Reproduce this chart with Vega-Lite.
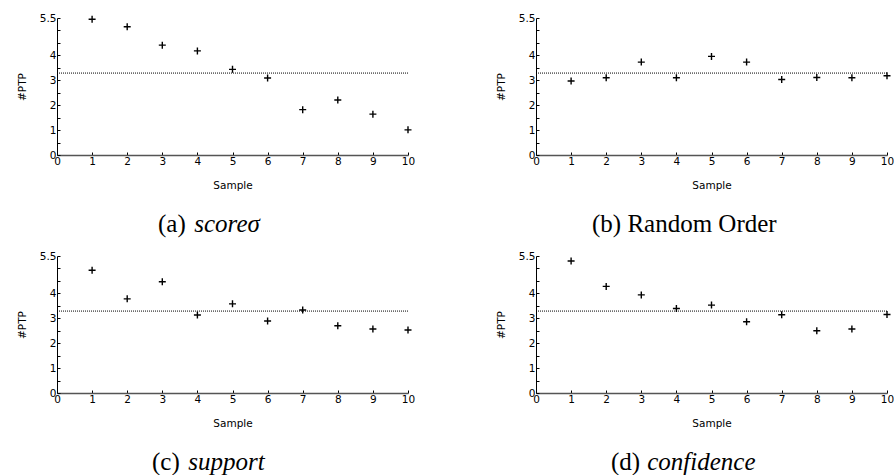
{
  "$schema": "https://vega.github.io/schema/vega-lite/v6.json",
  "padding": {"left": 17, "top": 12, "right": 0, "bottom": 0},
  "background": "white",
  "datasets": {
    "pts": [
      {"panel": "a", "sample": 1, "ptp": 5.45}, {"panel": "a", "sample": 2, "ptp": 5.15}, {"panel": "a", "sample": 3, "ptp": 4.41}, {"panel": "a", "sample": 4, "ptp": 4.18}, {"panel": "a", "sample": 5, "ptp": 3.44},
      {"panel": "a", "sample": 6, "ptp": 3.09}, {"panel": "a", "sample": 7, "ptp": 1.82}, {"panel": "a", "sample": 8, "ptp": 2.21}, {"panel": "a", "sample": 9, "ptp": 1.64}, {"panel": "a", "sample": 10, "ptp": 1.01},
      {"panel": "b", "sample": 1, "ptp": 2.97}, {"panel": "b", "sample": 2, "ptp": 3.10}, {"panel": "b", "sample": 3, "ptp": 3.73}, {"panel": "b", "sample": 4, "ptp": 3.10}, {"panel": "b", "sample": 5, "ptp": 3.96},
      {"panel": "b", "sample": 6, "ptp": 3.73}, {"panel": "b", "sample": 7, "ptp": 3.03}, {"panel": "b", "sample": 8, "ptp": 3.11}, {"panel": "b", "sample": 9, "ptp": 3.10}, {"panel": "b", "sample": 10, "ptp": 3.18},
      {"panel": "c", "sample": 1, "ptp": 4.93}, {"panel": "c", "sample": 2, "ptp": 3.78}, {"panel": "c", "sample": 3, "ptp": 4.47}, {"panel": "c", "sample": 4, "ptp": 3.13}, {"panel": "c", "sample": 5, "ptp": 3.58},
      {"panel": "c", "sample": 6, "ptp": 2.89}, {"panel": "c", "sample": 7, "ptp": 3.33}, {"panel": "c", "sample": 8, "ptp": 2.70}, {"panel": "c", "sample": 9, "ptp": 2.57}, {"panel": "c", "sample": 10, "ptp": 2.53},
      {"panel": "d", "sample": 1, "ptp": 5.30}, {"panel": "d", "sample": 2, "ptp": 4.28}, {"panel": "d", "sample": 3, "ptp": 3.94}, {"panel": "d", "sample": 4, "ptp": 3.39}, {"panel": "d", "sample": 5, "ptp": 3.53},
      {"panel": "d", "sample": 6, "ptp": 2.86}, {"panel": "d", "sample": 7, "ptp": 3.14}, {"panel": "d", "sample": 8, "ptp": 2.50}, {"panel": "d", "sample": 9, "ptp": 2.57}, {"panel": "d", "sample": 10, "ptp": 3.15}
    ],
    "avg": [
      {"panel": "a", "value": 3.29}, {"panel": "b", "value": 3.29}, {"panel": "c", "value": 3.29}, {"panel": "d", "value": 3.29}
    ]
  },
  "concat": [
    {
      "width": 351, "height": 137,
      "title": {"text": "(a)", "subtitle": "\u200b\u00a0\u00a0\u00a0\u00a0\u00a0\u2009score\u03c3", "dx": 101},
      "layer": [
        {"data": {"name": "pts"}, "transform": [{"filter": "datum.panel == 'a'"}], "mark": {"type": "point", "shape": "M-1,0L1,0M0,-1L0,1", "filled": false, "stroke": "black", "strokeWidth": 1.4, "size": 49, "opacity": 1},
         "encoding": {
           "x": {"field": "sample", "type": "quantitative", "title": "Sample", "scale": {"domain": [0, 10]}, "axis": {"values": [0, 1, 2, 3, 4, 5, 6, 7, 8, 9, 10], "format": "d"}},
           "y": {"field": "ptp", "type": "quantitative", "title": "#PTP", "scale": {"domain": [0, 5.501], "nice": false}, "axis": {"values": [0, 0.5, 1, 1.5, 2, 2.5, 3, 3.5, 4, 4.5, 5, 5.5], "format": "~g", "labelExpr": "(datum.value == 5.5 || (datum.value <= 4 && datum.value % 1 == 0)) ? datum.label : ''"}}}},
        {"data": {"name": "avg"}, "transform": [{"filter": "datum.panel == 'a'"}], "mark": {"type": "rule", "strokeDash": [1, 1], "color": "black", "strokeWidth": 1},
         "encoding": {"y": {"field": "value", "type": "quantitative", "title": "#PTP", "scale": {"domain": [0, 5.501], "nice": false}, "axis": {"values": [0, 0.5, 1, 1.5, 2, 2.5, 3, 3.5, 4, 4.5, 5, 5.5], "format": "~g", "labelExpr": "(datum.value == 5.5 || (datum.value <= 4 && datum.value % 1 == 0)) ? datum.label : ''"}}}}
      ]
    },
    {
      "width": 351, "height": 137,
      "title": {"text": "(b) Random Order", "dx": 56},
      "layer": [
        {"data": {"name": "pts"}, "transform": [{"filter": "datum.panel == 'b'"}], "mark": {"type": "point", "shape": "M-1,0L1,0M0,-1L0,1", "filled": false, "stroke": "black", "strokeWidth": 1.4, "size": 49, "opacity": 1},
         "encoding": {
           "x": {"field": "sample", "type": "quantitative", "title": "Sample", "scale": {"domain": [0, 10]}, "axis": {"values": [0, 1, 2, 3, 4, 5, 6, 7, 8, 9, 10], "format": "d"}},
           "y": {"field": "ptp", "type": "quantitative", "title": "#PTP", "scale": {"domain": [0, 5.501], "nice": false}, "axis": {"values": [0, 0.5, 1, 1.5, 2, 2.5, 3, 3.5, 4, 4.5, 5, 5.5], "format": "~g", "labelExpr": "(datum.value == 5.5 || (datum.value <= 4 && datum.value % 1 == 0)) ? datum.label : ''"}}}},
        {"data": {"name": "avg"}, "transform": [{"filter": "datum.panel == 'b'"}], "mark": {"type": "rule", "strokeDash": [1, 1], "color": "black", "strokeWidth": 1},
         "encoding": {"y": {"field": "value", "type": "quantitative", "title": "#PTP", "scale": {"domain": [0, 5.501], "nice": false}, "axis": {"values": [0, 0.5, 1, 1.5, 2, 2.5, 3, 3.5, 4, 4.5, 5, 5.5], "format": "~g", "labelExpr": "(datum.value == 5.5 || (datum.value <= 4 && datum.value % 1 == 0)) ? datum.label : ''"}}}}
      ]
    },
    {
      "width": 351, "height": 137,
      "title": {"text": "(c)", "subtitle": "\u200b\u00a0\u00a0\u00a0\u00a0\u00a0\u2009support", "dx": 95},
      "layer": [
        {"data": {"name": "pts"}, "transform": [{"filter": "datum.panel == 'c'"}], "mark": {"type": "point", "shape": "M-1,0L1,0M0,-1L0,1", "filled": false, "stroke": "black", "strokeWidth": 1.4, "size": 49, "opacity": 1},
         "encoding": {
           "x": {"field": "sample", "type": "quantitative", "title": "Sample", "scale": {"domain": [0, 10]}, "axis": {"values": [0, 1, 2, 3, 4, 5, 6, 7, 8, 9, 10], "format": "d"}},
           "y": {"field": "ptp", "type": "quantitative", "title": "#PTP", "scale": {"domain": [0, 5.501], "nice": false}, "axis": {"values": [0, 0.5, 1, 1.5, 2, 2.5, 3, 3.5, 4, 4.5, 5, 5.5], "format": "~g", "labelExpr": "(datum.value == 5.5 || (datum.value <= 4 && datum.value % 1 == 0)) ? datum.label : ''"}}}},
        {"data": {"name": "avg"}, "transform": [{"filter": "datum.panel == 'c'"}], "mark": {"type": "rule", "strokeDash": [1, 1], "color": "black", "strokeWidth": 1},
         "encoding": {"y": {"field": "value", "type": "quantitative", "title": "#PTP", "scale": {"domain": [0, 5.501], "nice": false}, "axis": {"values": [0, 0.5, 1, 1.5, 2, 2.5, 3, 3.5, 4, 4.5, 5, 5.5], "format": "~g", "labelExpr": "(datum.value == 5.5 || (datum.value <= 4 && datum.value % 1 == 0)) ? datum.label : ''"}}}}
      ]
    },
    {
      "width": 351, "height": 137,
      "title": {"text": "(d)", "subtitle": "\u200b\u00a0\u00a0\u00a0\u00a0\u00a0\u2009confidence", "dx": 75},
      "layer": [
        {"data": {"name": "pts"}, "transform": [{"filter": "datum.panel == 'd'"}], "mark": {"type": "point", "shape": "M-1,0L1,0M0,-1L0,1", "filled": false, "stroke": "black", "strokeWidth": 1.4, "size": 49, "opacity": 1},
         "encoding": {
           "x": {"field": "sample", "type": "quantitative", "title": "Sample", "scale": {"domain": [0, 10]}, "axis": {"values": [0, 1, 2, 3, 4, 5, 6, 7, 8, 9, 10], "format": "d"}},
           "y": {"field": "ptp", "type": "quantitative", "title": "#PTP", "scale": {"domain": [0, 5.501], "nice": false}, "axis": {"values": [0, 0.5, 1, 1.5, 2, 2.5, 3, 3.5, 4, 4.5, 5, 5.5], "format": "~g", "labelExpr": "(datum.value == 5.5 || (datum.value <= 4 && datum.value % 1 == 0)) ? datum.label : ''"}}}},
        {"data": {"name": "avg"}, "transform": [{"filter": "datum.panel == 'd'"}], "mark": {"type": "rule", "strokeDash": [1, 1], "color": "black", "strokeWidth": 1},
         "encoding": {"y": {"field": "value", "type": "quantitative", "title": "#PTP", "scale": {"domain": [0, 5.501], "nice": false}, "axis": {"values": [0, 0.5, 1, 1.5, 2, 2.5, 3, 3.5, 4, 4.5, 5, 5.5], "format": "~g", "labelExpr": "(datum.value == 5.5 || (datum.value <= 4 && datum.value % 1 == 0)) ? datum.label : ''"}}}}
      ]
    }
  ],
  "columns": 2,
  "spacing": {"row": 14, "column": 81},
  "config": {
    "view": {"stroke": null},
    "title": {"orient": "bottom", "anchor": "start", "frame": "group", "font": "Liberation Serif", "fontSize": 25, "fontWeight": "normal", "color": "black", "offset": 21, "subtitleFont": "Liberation Serif", "subtitleFontSize": 25, "subtitleFontStyle": "italic", "subtitleColor": "black", "subtitlePadding": -25},
    "axis": {"grid": false, "labelFont": "DejaVu Sans", "labelFontSize": 10.5, "labelColor": "black", "titleFont": "DejaVu Sans", "titleFontSize": 10.5, "titleFontWeight": "normal", "titleColor": "black", "tickColor": "black", "tickSize": -3, "tickWidth": 1, "labelOverlap": false, "labelBound": false, "labelFlush": false},
    "axisX": {"domainColor": "#555", "domainWidth": 1.5, "labelPadding": 4, "titlePadding": 14},
    "axisY": {"domainColor": "black", "domainWidth": 1, "labelPadding": 4, "titlePadding": 12}
  }
}
